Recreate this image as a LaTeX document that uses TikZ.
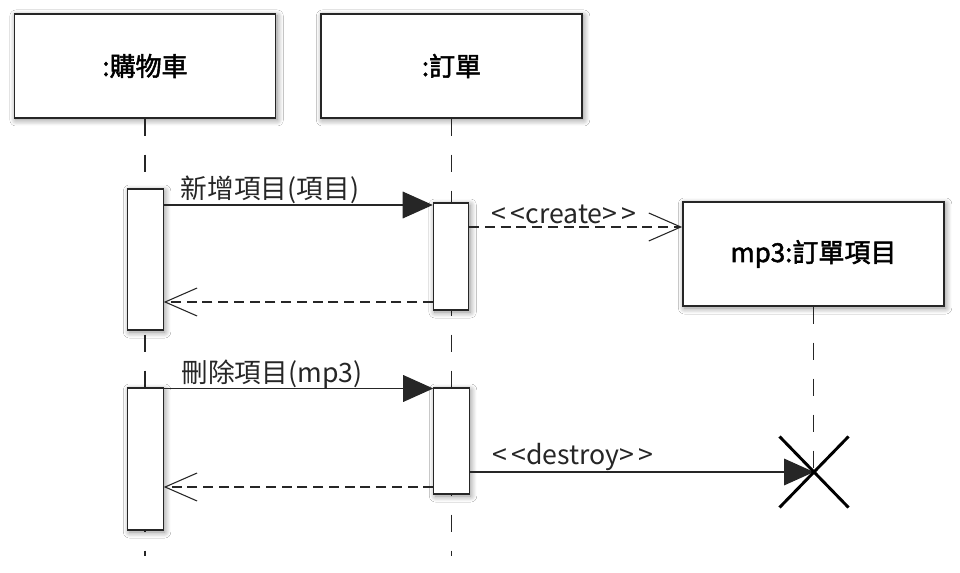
\documentclass[tikz,border=0pt]{standalone}
\usepackage{fontspec}
\setmainfont{Noto Sans CJK TC}
\newfontfamily\medfont[FakeBold=2]{Noto Sans CJK TC}
\usetikzlibrary{arrows.meta,shadows.blur,calc}
\begin{document}
\begin{tikzpicture}[x=0.75pt,y=-0.75pt,
  shd/.style={blur shadow={shadow xshift=1.2pt, shadow yshift=-1.5pt, shadow blur radius=4.5pt, shadow blur steps=14, shadow opacity=45}},
  objbox/.style={draw=black!85, line width=1.1pt, fill=white, minimum width=196pt, minimum height=78pt,
     font=\fontsize{19.5}{22}\medfont, text=black, shd},
  actbar/.style={draw=black!85, line width=0.9pt, fill=white, minimum width=26.5pt, inner sep=0pt, shd},
  lifeline/.style={draw=black!85, line width=1pt, dash pattern=on 13pt off 14pt},
  msg/.style={draw=black!85, line width=0.9pt},
  callarr/.style={msg, -{Triangle[length=22.5pt,width=20pt]}},
  retarr/.style={msg, dash pattern=on 7.5pt off 4.3pt, -{Straight Barb[length=24pt,width=21pt,line width=0.8pt]}},
  lbl/.style={font=\fontsize{20}{22}\selectfont, text=black!85, inner sep=0pt},
  xmark/.style={draw=black, line width=2.2pt}]
\useasboundingbox (0,0) rectangle (960,573);
\fill[white] (0,0) rectangle (960,573);

% objects
\node[objbox] (cart)  at (145,66)    {:購物車};
\node[objbox] (order) at (451.5,66)  {:訂單};
\node[objbox] (item)  at (813.5,254) {mp3:訂單項目};

% lifelines
\coordinate (end1) at (145.5,556);
\coordinate (end2) at (451,556);
\coordinate (xc)   at (814,472);
\draw[lifeline] (cart.south) -- (cart.south |- end1);
\draw[lifeline] (order.south) -- (order.south |- end2);
\draw[lifeline] (item.south) -- (item.south |- xc);

% activation bars
\node[actbar, minimum height=105.75pt] (bar1a) at (145.5,259.5) {};
\node[actbar, minimum height=80.25pt]  (bar2a) at (451,256.5) {};
\node[actbar, minimum height=106.5pt]  (bar1b) at (145.5,459) {};
\node[actbar, minimum height=79.5pt]   (bar2b) at (451.5,441) {};

% message y levels
\coordinate (m1) at (0,205);
\coordinate (r1) at (0,302);
\coordinate (c1) at (0,227);
\coordinate (m2) at (0,388.5);
\coordinate (r2) at (0,487);

% messages
\draw[callarr] (bar1a.east |- m1) -- (bar2a.west |- m1);
\node[lbl] (l1) at (270,190) {新增項目(項目)};
\draw[retarr] (bar2a.west |- r1) -- (bar1a.east |- r1);

\draw[retarr] (bar2a.east |- c1) -- (item.west |- c1);
\node[lbl] (l2) at (564,214) {<\,<create>\,>};

\draw[callarr] (bar1b.east |- m2) -- (bar2b.west |- m2);
\node[lbl] (l3) at (272,374) {刪除項目(mp3)};
\draw[retarr] (bar2b.west |- r2) -- (bar1b.east |- r2);

\draw[callarr] (bar2b.east |- xc) -- (xc);
\node[lbl] (l4) at (573,457) {<\,<destroy>\,>};

% destruction mark
\draw[xmark] ($(xc)+(-34.5,-35.5)$) -- ($(xc)+(34.5,35.5)$);
\draw[xmark] ($(xc)+(-34.5,35.5)$) -- ($(xc)+(34.5,-35.5)$);
\end{tikzpicture}
\end{document}
